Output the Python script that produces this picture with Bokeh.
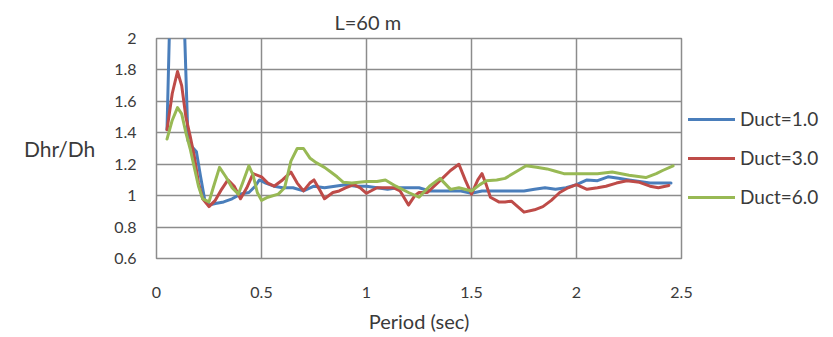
from bokeh.plotting import figure
from bokeh.models import Legend, LegendItem, FixedTicker, Range1d
from bokeh.embed import file_html
from bokeh.resources import INLINE

# Period (sec) and Dhr/Dh ratio for each ductility level
period_d1 = [0.05, 0.07, 0.09, 0.11, 0.13, 0.15, 0.17, 0.19, 0.21, 0.23, 0.25, 0.28,
             0.32, 0.36, 0.40, 0.44, 0.47, 0.49, 0.52, 0.56, 0.60, 0.65, 0.70, 0.75,
             0.80, 0.85, 0.90, 0.95, 1.00, 1.05, 1.10, 1.15, 1.20, 1.25, 1.30, 1.35,
             1.40, 1.45, 1.50, 1.55, 1.60, 1.65, 1.70, 1.75, 1.80, 1.85, 1.90, 1.95,
             2.00, 2.05, 2.10, 2.15, 2.20, 2.25, 2.30, 2.35, 2.40, 2.45]
ratio_d1 = [1.42, 2.50, 2.90, 2.90, 2.20, 1.35, 1.31, 1.28, 1.12, 0.97, 0.94, 0.95,
            0.96, 0.98, 1.01, 1.02, 1.06, 1.10, 1.08, 1.06, 1.05, 1.05, 1.03, 1.06,
            1.05, 1.06, 1.07, 1.06, 1.06, 1.05, 1.04, 1.05, 1.05, 1.05, 1.03, 1.03,
            1.03, 1.03, 1.015, 1.03, 1.03, 1.03, 1.03, 1.03, 1.04, 1.05, 1.04, 1.05,
            1.07, 1.10, 1.095, 1.12, 1.11, 1.10, 1.09, 1.08, 1.08, 1.08]

period_d3 = [0.05, 0.075, 0.10, 0.12, 0.14, 0.16, 0.18, 0.20, 0.22, 0.25, 0.28, 0.31,
             0.34, 0.37, 0.40, 0.43, 0.46, 0.50, 0.53, 0.56, 0.60, 0.64, 0.67, 0.70,
             0.73, 0.75, 0.78, 0.80, 0.84, 0.87, 0.90, 0.94, 0.97, 1.00, 1.05, 1.10,
             1.13, 1.16, 1.20, 1.23, 1.25, 1.29, 1.35, 1.40, 1.44, 1.47, 1.50, 1.53,
             1.55, 1.57, 1.59, 1.63, 1.66, 1.69, 1.72, 1.75, 1.80, 1.84, 1.88, 1.92,
             1.96, 2.00, 2.05, 2.10, 2.14, 2.19, 2.24, 2.30, 2.35, 2.39, 2.44]
ratio_d3 = [1.42, 1.65, 1.79, 1.70, 1.50, 1.38, 1.25, 1.08, 0.98, 0.93, 0.97, 1.04,
            1.10, 1.06, 0.98, 1.05, 1.14, 1.12, 1.08, 1.06, 1.10, 1.15, 1.08, 1.03,
            1.08, 1.10, 1.03, 0.98, 1.02, 1.03, 1.05, 1.07, 1.05, 1.015, 1.05, 1.05,
            1.05, 1.03, 0.94, 1.00, 1.02, 1.02, 1.095, 1.16, 1.20, 1.10, 1.01, 1.10,
            1.14, 1.07, 0.99, 0.96, 0.96, 0.965, 0.93, 0.895, 0.91, 0.93, 0.97, 1.02,
            1.05, 1.07, 1.04, 1.05, 1.06, 1.08, 1.095, 1.085, 1.06, 1.05, 1.065]

period_d6 = [0.05, 0.075, 0.10, 0.12, 0.14, 0.16, 0.18, 0.20, 0.22, 0.25, 0.27, 0.30,
             0.33, 0.36, 0.39, 0.41, 0.44, 0.46, 0.48, 0.50, 0.53, 0.58, 0.61, 0.64,
             0.67, 0.70, 0.73, 0.76, 0.80, 0.83, 0.86, 0.89, 0.93, 1.00, 1.05, 1.09,
             1.14, 1.20, 1.25, 1.30, 1.35, 1.40, 1.44, 1.50, 1.54, 1.57, 1.62, 1.66,
             1.71, 1.76, 1.81, 1.86, 1.90, 1.94, 2.00, 2.05, 2.10, 2.17, 2.25, 2.33,
             2.38, 2.41, 2.46]
ratio_d6 = [1.36, 1.48, 1.56, 1.52, 1.40, 1.30, 1.18, 1.06, 0.98, 0.96, 1.05, 1.18,
            1.12, 1.05, 1.01, 1.08, 1.19, 1.13, 1.02, 0.97, 0.99, 1.01, 1.05, 1.22,
            1.30, 1.30, 1.24, 1.21, 1.18, 1.15, 1.12, 1.085, 1.08, 1.09, 1.09, 1.10,
            1.06, 1.02, 0.99, 1.06, 1.11, 1.04, 1.05, 1.03, 1.07, 1.095, 1.10, 1.11,
            1.15, 1.19, 1.18, 1.17, 1.155, 1.14, 1.14, 1.14, 1.14, 1.15, 1.13, 1.115,
            1.14, 1.16, 1.19]

series_names = ["Duct=1.0", "Duct=3.0", "Duct=6.0"]
series_colors = ["#4A7EBB", "#BE4B48", "#98B954"]

x_ticks = [0, 0.5, 1, 1.5, 2, 2.5]
x_tick_labels = ["0", "0.5", "1", "1.5", "2", "2.5"]
y_ticks = [0.6, 0.8, 1.0, 1.2, 1.4, 1.6, 1.8, 2.0]
y_tick_labels = ["0.6", "0.8", "1", "1.2", "1.4", "1.6", "1.8", "2"]

FONT = "Lato"
TEXT = "#3a3a3a"
GRID = "#8c8c8c"

p = figure(frame_width=525, frame_height=220, output_backend="svg", toolbar_location=None,
           x_range=Range1d(0, 2.5), y_range=Range1d(0.6, 2.0),
           title="L=60 m",
           min_border_left=156, min_border_right=152,
           min_border_top=38, min_border_bottom=79)

p.background_fill_color = "white"
p.border_fill_color = "white"
p.outline_line_color = GRID
p.outline_line_width = 1.5

p.title.align = "left"
p.title.offset = 178
p.title.text_font = FONT
p.title.text_font_size = "20px"
p.title.text_font_style = "normal"
p.title.text_color = TEXT
p.title.standoff = 10

for ax, ticks, labels in ((p.xaxis, x_ticks, x_tick_labels), (p.yaxis, y_ticks, y_tick_labels)):
    ax.ticker = FixedTicker(ticks=ticks)
    ax.major_label_overrides = {t: l for t, l in zip(ticks, labels)}
    ax.axis_line_color = None
    ax.major_tick_line_color = None
    ax.minor_tick_line_color = None
    ax.major_label_text_font = FONT
    ax.major_label_text_font_size = "16px"
    ax.major_label_text_color = TEXT
    ax.axis_label_text_font = FONT
    ax.axis_label_text_font_style = "normal"
    ax.axis_label_text_color = TEXT

p.xaxis.major_label_standoff = 22
p.yaxis.major_label_standoff = 14
p.xaxis.axis_label = "Period (sec)"
p.xaxis.axis_label_standoff = 8
p.xaxis.axis_label_text_font_size = "20px"

p.yaxis.axis_label = "Dhr/Dh"
p.yaxis.axis_label_standoff = 16
p.yaxis.axis_label_text_font_size = "21px"
if "axis_label_orientation" in p.yaxis[0].properties():
    p.yaxis.axis_label_orientation = "horizontal"

p.xgrid.ticker = FixedTicker(ticks=x_ticks)
p.ygrid.ticker = FixedTicker(ticks=y_ticks)
for g in (p.xgrid, p.ygrid):
    g.grid_line_color = GRID
    g.grid_line_width = 1.5

renderers = []
for xs, ys, color in ((period_d1, ratio_d1, series_colors[0]),
                      (period_d3, ratio_d3, series_colors[1]),
                      (period_d6, ratio_d6, series_colors[2])):
    r = p.line(xs, ys, line_color=color, line_width=3, line_join="round", line_cap="round")
    renderers.append(r)

legend = Legend(items=[LegendItem(label=n, renderers=[r]) for n, r in zip(series_names, renderers)],
                location=(7, 50), orientation="vertical",
                glyph_width=47, glyph_height=20, label_height=20, label_standoff=5,
                spacing=16, padding=0, margin=0,
                background_fill_alpha=0, border_line_color=None,
                label_text_font=FONT, label_text_font_size="19px",
                label_text_color=TEXT, label_text_baseline="middle")
p.add_layout(legend, "right")

open("out.html", "w").write(file_html(p, INLINE))
